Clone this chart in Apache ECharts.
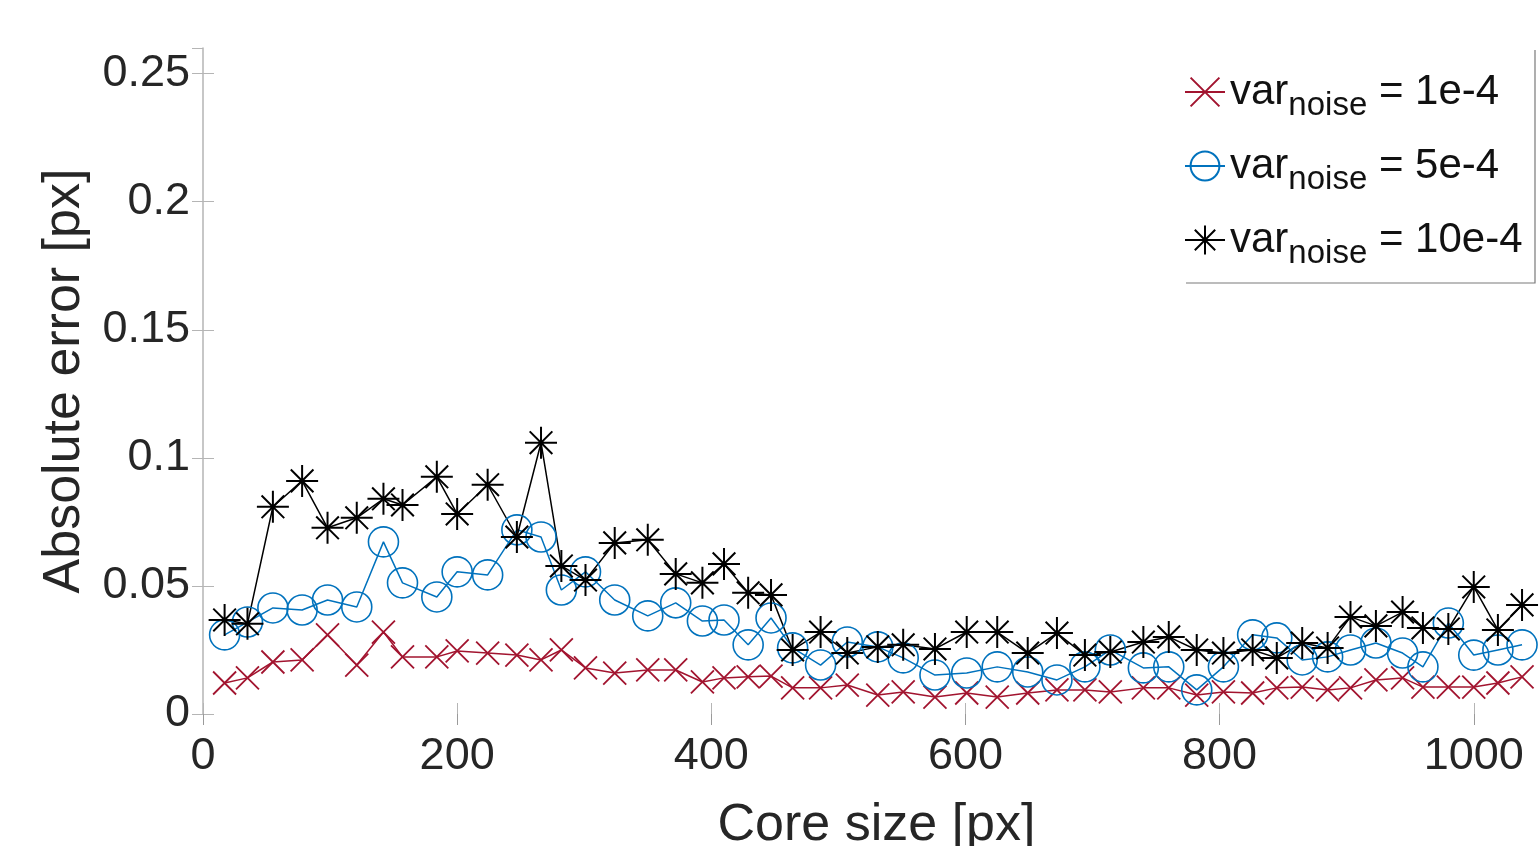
<!DOCTYPE html>
<html>
<head>
<meta charset="utf-8">
<title>Absolute error vs core size</title>
<script src="https://cdn.jsdelivr.net/npm/echarts@6/dist/echarts.min.js"></script>
<style>
  html, body { margin: 0; padding: 0; background: #fff; }
  #chart { width: 1539px; height: 846px; }
</style>
</head>
<body>
<div id="chart"></div>
<script>
// core size [px] for every measurement
const coreSize = [17, 35, 55, 78, 98, 121, 142, 157, 184, 200, 224, 247, 266, 282, 301, 324, 350, 372, 393, 410,
  429, 447, 464, 486, 507, 531, 551, 576, 601, 625, 649, 672, 694, 714, 740, 760, 782, 803, 826, 845,
  865, 885, 903, 923, 944, 960, 980, 1000, 1019, 1038];

// absolute error [px], one array per noise variance
const errNoise1 = [0.0121, 0.0141, 0.0203, 0.0211, 0.0309, 0.0191, 0.0320, 0.0223, 0.0223, 0.0246, 0.0238, 0.0230,
  0.0211, 0.0250, 0.0180, 0.0160, 0.0172, 0.0172, 0.0125, 0.0141, 0.0145, 0.0148, 0.0102, 0.0102, 0.0113,
  0.0074, 0.0086, 0.0066, 0.0082, 0.0066, 0.0082, 0.0094, 0.0094, 0.0086, 0.0102, 0.0102, 0.0074, 0.0086,
  0.0082, 0.0102, 0.0105, 0.0094, 0.0102, 0.0133, 0.0141, 0.0105, 0.0105, 0.0105, 0.0121, 0.0145];
const errNoise5 = [0.0309, 0.0359, 0.0414, 0.0406, 0.0445, 0.0418, 0.0672, 0.0512, 0.0457, 0.0555, 0.0543, 0.0719,
  0.0691, 0.0484, 0.0555, 0.0445, 0.0383, 0.0434, 0.0363, 0.0367, 0.0270, 0.0375, 0.0258, 0.0191, 0.0281,
  0.0262, 0.0219, 0.0152, 0.0160, 0.0184, 0.0164, 0.0133, 0.0184, 0.0250, 0.0180, 0.0184, 0.0094, 0.0184,
  0.0309, 0.0297, 0.0211, 0.0223, 0.0250, 0.0277, 0.0238, 0.0184, 0.0355, 0.0230, 0.0250, 0.0270];
const errNoise10 = [0.0367, 0.0352, 0.0809, 0.0910, 0.0727, 0.0766, 0.0840, 0.0816, 0.0926, 0.0781, 0.0895, 0.0691,
  0.1059, 0.0578, 0.0523, 0.0668, 0.0680, 0.0547, 0.0512, 0.0586, 0.0473, 0.0465, 0.0250, 0.0320, 0.0238,
  0.0262, 0.0270, 0.0254, 0.0320, 0.0320, 0.0238, 0.0316, 0.0230, 0.0242, 0.0281, 0.0301, 0.0250, 0.0238,
  0.0250, 0.0219, 0.0277, 0.0258, 0.0379, 0.0344, 0.0398, 0.0336, 0.0332, 0.0496, 0.0328, 0.0426];

const seriesNames = ['1e-4', '5e-4', '10e-4'];

const FONT = 'Liberation Sans, Arial, Helvetica, sans-serif';
const TEXT = '#262626';
const AXIS = '#b5b5b5';

const crossSymbol = 'path://M0,0L10,10M10,0L0,10';
const starSymbol = 'path://M5,0L5,10M0,5L10,5M1.46,1.46L8.54,8.54M8.54,1.46L1.46,8.54';

function pairs(ys) {
  return coreSize.map((x, i) => [x, ys[i]]);
}

function makeSeries(name, ys, color, symbol, size, markerWidth) {
  return {
    name: name,
    type: 'line',
    data: pairs(ys),
    symbol: symbol,
    symbolSize: size,
    showAllSymbol: true,
    clip: true,
    lineStyle: { color: color, width: 1.5 },
    itemStyle: { color: 'rgba(0,0,0,0)', borderColor: color, borderWidth: markerWidth },
    emphasis: { disabled: true },
  };
}

const chart = echarts.init(document.getElementById('chart'));

const option = {
  animation: false,
  backgroundColor: '#fff',
  textStyle: { fontFamily: FONT },
  grid: { left: 203, top: 48, width: 1347, height: 666, outerBoundsMode: 'none', containLabel: false },
  legend: {
    orient: 'vertical',
    left: 1184,
    top: 62,
    padding: 0,
    itemWidth: 40,
    itemHeight: 36,
    itemGap: 14,
    data: seriesNames,
    formatter: (name) => '{v|var}{s|noise}{v| = ' + name + '}',
    textStyle: {
      color: '#111',
      fontFamily: FONT,
      rich: {
        v: { fontSize: 42, lineHeight: 42, verticalAlign: 'top', color: '#111', fontFamily: FONT },
        s: { fontSize: 33, lineHeight: 34, padding: [27, 0, 0, 0], color: '#111', fontFamily: FONT },
      },
    },
  },
  graphic: [{
    type: 'polyline',
    shape: { points: [[1186, 283], [1535, 283], [1535, 50]] },
    style: { stroke: '#7a7a7a', lineWidth: 1.2, fill: null },
    silent: true,
  }],
  xAxis: [{
    type: 'value',
    min: 0,
    max: 1060,
    interval: 200,
    name: 'Core size [px]',
    nameLocation: 'middle',
    nameGap: 86,
    nameTextStyle: { fontSize: 52, color: TEXT, fontFamily: FONT },
    axisLine: { show: false },
    axisTick: { show: true, inside: true, length: 11, lineStyle: { color: AXIS } },
    axisLabel: {
      fontSize: 45, color: TEXT, margin: 20, showMaxLabel: false, fontFamily: FONT,
      formatter: (v) => String(v),
    },
    splitLine: { show: false },
  }, {
    type: 'value',
    position: 'top',
    min: 0,
    max: 1060,
    interval: 200,
    axisLine: { show: false },
    axisTick: { show: true, inside: true, length: 11, lineStyle: { color: '#9a9a9a' } },
    axisLabel: { show: false },
    splitLine: { show: false },
  }],
  yAxis: [{
    type: 'value',
    min: 0,
    max: 0.26,
    interval: 0.05,
    name: 'Absolute error [px]',
    nameLocation: 'middle',
    nameGap: 112,
    nameTextStyle: { fontSize: 52, color: TEXT, fontFamily: FONT },
    axisLine: { show: true, lineStyle: { color: AXIS, width: 1.5 } },
    axisTick: { show: true, inside: true, length: 11, lineStyle: { color: AXIS } },
    axisLabel: { fontSize: 45, color: TEXT, margin: 13, showMaxLabel: false, fontFamily: FONT },
    splitLine: { show: false },
  }, {
    type: 'value',
    position: 'right',
    min: 0,
    max: 0.26,
    interval: 0.05,
    axisLine: { show: false },
    axisTick: { show: true, inside: true, length: 11, lineStyle: { color: AXIS } },
    axisLabel: { show: false },
    splitLine: { show: false },
  }],
  series: [
    makeSeries(seriesNames[0], errNoise1, '#A2142F', crossSymbol, 23, 1.8),
    makeSeries(seriesNames[1], errNoise5, '#0072BD', 'circle', 30, 1.6),
    makeSeries(seriesNames[2], errNoise10, '#000000', starSymbol, 32, 2),
  ],
};

chart.setOption(option);
</script>
</body>
</html>
